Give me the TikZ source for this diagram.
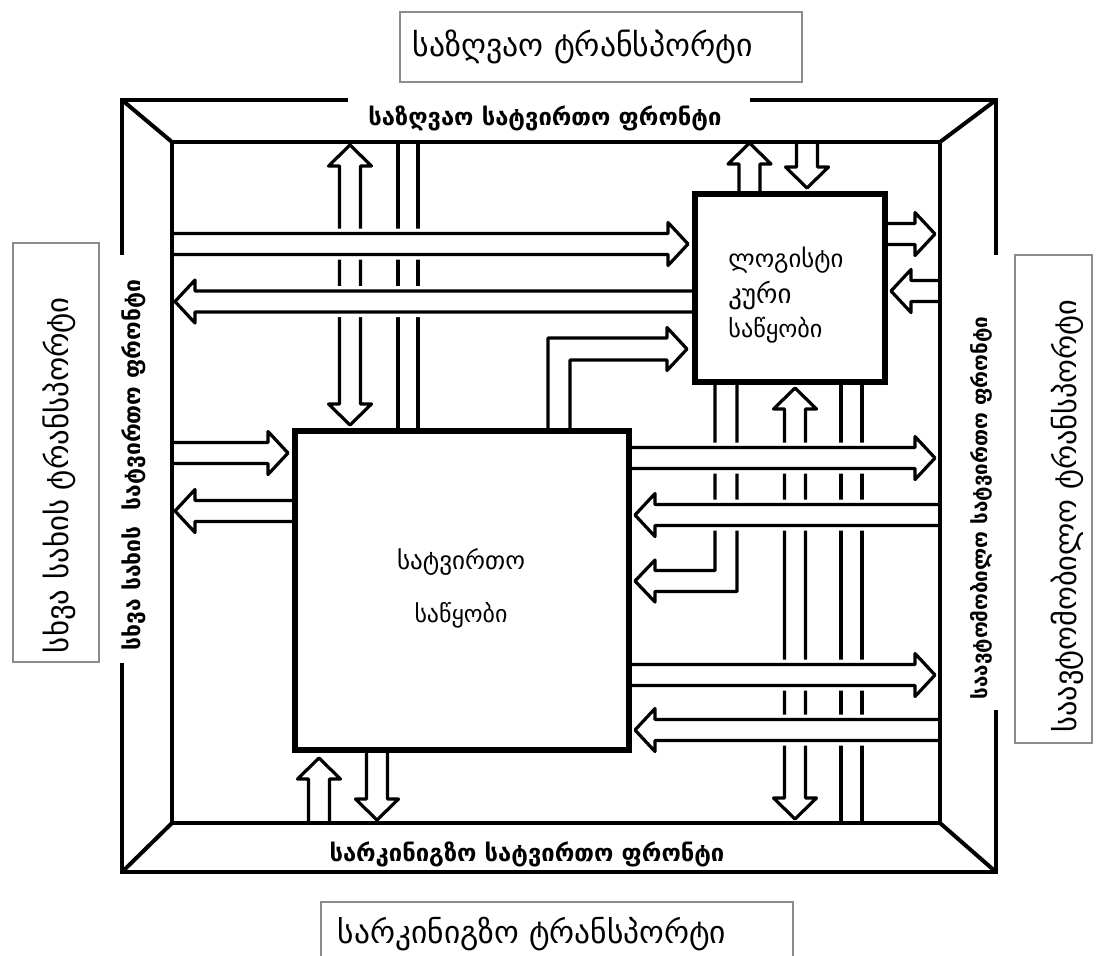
\documentclass[tikz,border=0pt]{standalone}
\usepackage{fontspec}
\setmainfont{DejaVu Sans}
\usepackage{graphicx}
\newcommand\fitw[2]{\resizebox{#1pt}{!}{#2}}
\tikzset{
  frame/.style={line width=2pt, line join=miter},
  chan/.style={line width=1.6pt},
  varrow/.style={draw=black, fill=white, line width=1.6pt, line join=round},
  harrow/.style={draw=black, fill=white, line width=1.6pt, line join=round,
                 preaction={draw=white, line width=5pt}},
  store/.style={draw=black, fill=white, inner sep=0pt},
  tbox/.style={draw=black!45, line width=0.7pt, inner sep=0pt},
  lbl/.style={inner sep=0pt},
}
% hollow arrows: coordinates in pixels of the reference
\newcommand\ArrR[3]{\draw[harrow] (#1,#3-10.5) -- (#2-20,#3-10.5) -- (#2-20,#3-21.5) -- (#2,#3) -- (#2-20,#3+21.5) -- (#2-20,#3+10.5) -- (#1,#3+10.5);}
\newcommand\ArrL[3]{\draw[harrow] (#1,#3-10.5) -- (#2+20,#3-10.5) -- (#2+20,#3-21.5) -- (#2,#3) -- (#2+20,#3+21.5) -- (#2+20,#3+10.5) -- (#1,#3+10.5);}
\newcommand\ArrU[3]{\draw[varrow] (#1-10.5,#2) -- (#1-10.5,#3+21) -- (#1-21.5,#3+21) -- (#1,#3) -- (#1+21.5,#3+21) -- (#1+10.5,#3+21) -- (#1+10.5,#2);}
\newcommand\ArrD[3]{\draw[varrow] (#1-10.5,#2) -- (#1-10.5,#3-21) -- (#1-21.5,#3-21) -- (#1,#3) -- (#1+21.5,#3-21) -- (#1+10.5,#3-21) -- (#1+10.5,#2);}
\newcommand\ArrUD[3]{\draw[varrow] (#1-10.5,#2+21) -- (#1-21.5,#2+21) -- (#1,#2) -- (#1+21.5,#2+21) -- (#1+10.5,#2+21) -- (#1+10.5,#3-21) -- (#1+21.5,#3-21) -- (#1,#3) -- (#1-21.5,#3-21) -- (#1-10.5,#3-21) -- cycle;}
\begin{document}
\begin{tikzpicture}[x=0.5pt, y=-0.5pt]
\useasboundingbox (0,0) rectangle (1096,955);
% frame corners
\coordinate (oTL) at (122,100);
\coordinate (oTR) at (996,100);
\coordinate (oBL) at (122,872);
\coordinate (oBR) at (996,872);
\coordinate (iTL) at (172,142);
\coordinate (iTR) at (940,142);
\coordinate (iBL) at (172,823);
\coordinate (iBR) at (940,823);

% ---------- vertical layer ----------
\ArrUD{350}{145}{425}
\draw[chan] (398,142) -- (398,431);
\draw[chan] (418,142) -- (418,431);
\ArrU{749.5}{193}{143}
\ArrD{807}{142}{188}
\draw[varrow] (548,431) -- (548,338) -- (667,338) -- (667,327.5) -- (687,349) -- (667,370.5) -- (667,360) -- (570,360) -- (570,431);
\draw[varrow] (715,381) -- (715,570.5) -- (655,570.5) -- (655,560) -- (635,581) -- (655,602) -- (655,591.5) -- (737,591.5) -- (737,381);
\ArrUD{795}{388}{819}
\draw[chan] (841,381) -- (841,823);
\draw[chan] (862,381) -- (862,823);
\ArrU{319}{823}{758}
\ArrD{377}{750}{820}

% ---------- horizontal layer ----------
\ArrR{172}{688}{244}
\ArrL{695}{175}{301.5}
\ArrR{884}{935}{234}
\ArrL{940}{891}{291}
\ArrR{629}{935}{458}
\ArrL{940}{635}{515}
\ArrR{629}{935}{675}
\ArrL{940}{635}{730}
\ArrR{172}{288}{453}
\ArrL{295}{175}{511}

% ---------- warehouses ----------
\node[store, line width=3.2pt, minimum width=166.8pt, minimum height=159.3pt] (stock) at (462,590.5) {};
\node[store, line width=3pt, minimum width=94.75pt, minimum height=94pt] (logi) at (789.75,287.5) {};
\node[lbl] (st1) at (461,562) {\fitw{64}{სატვირთო}};
\node[lbl] (st2) at (461,615) {\fitw{46.5}{საწყობი}};
\node[lbl, anchor=west] (lg1) at (728,260) {\fitw{57.5}{ლოგისტი}};
\node[lbl, anchor=west] (lg2) at (728,295) {\fitw{31.5}{კური}};
\node[lbl, anchor=west] (lg3) at (728,330) {\fitw{47}{საწყობი}};

% ---------- frame ----------
\draw[frame] (iTL) rectangle (iBR);
\draw[frame] (oTL) -- (iTL);
\draw[frame] (oTR) -- (iTR);
\draw[frame] (oBL) -- (iBL);
\draw[frame] (oBR) -- (iBR);
\draw[frame] (348,100) -- (oTL) -- (122,255);
\draw[frame] (750,100) -- (oTR) -- (996,255);
\draw[frame] (996,710) -- (oBR) -- (oBL) -- (122,663);

% ---------- front labels ----------
\node[lbl] (seaF) at (545,118) {\fitw{176.5}{\bfseries საზღვაო სატვირთო ფრონტი}};
\node[lbl] (railF) at (527,854) {\fitw{197.5}{\bfseries სარკინიგზო სატვირთო ფრონტი}};
\node[lbl, rotate=90] (otherF) at (134,465) {\fitw{185}{\bfseries სხვა სახის\ \ სატვირთო ფრონტი}};
\node[lbl, rotate=90] (autoF) at (981,508) {\fitw{191.5}{\bfseries საავტომობილო სატვირთო ფრონტი}};

% ---------- transport boxes ----------
\node[tbox, minimum width=201pt, minimum height=35pt] (seaBox) at (601,47) {};
\node[tbox, minimum width=43pt, minimum height=209.5pt] (otherBox) at (56,452.5) {};
\node[tbox, minimum width=38.5pt, minimum height=244pt] (autoBox) at (1053.5,499) {};
\coordinate (rbL) at (321,960);
\coordinate (rbR) at (793,960);
\draw[black!45, line width=0.7pt] (rbL) -- (321,902) -- (793,902) -- (rbR);
\node[lbl] (seaT) at (583,47) {\fitw{170}{საზღვაო ტრანსპორტი}};
\node[lbl, rotate=90] (otherT) at (59,475) {\fitw{178}{სხვა სახის ტრანსპორტი}};
\node[lbl, rotate=90] (autoT) at (1067,516) {\fitw{216.5}{საავტომობილო ტრანსპორტი}};
\node[lbl] (railT) at (532,934) {\fitw{194}{სარკინიგზო ტრანსპორტი}};
\end{tikzpicture}
\end{document}
